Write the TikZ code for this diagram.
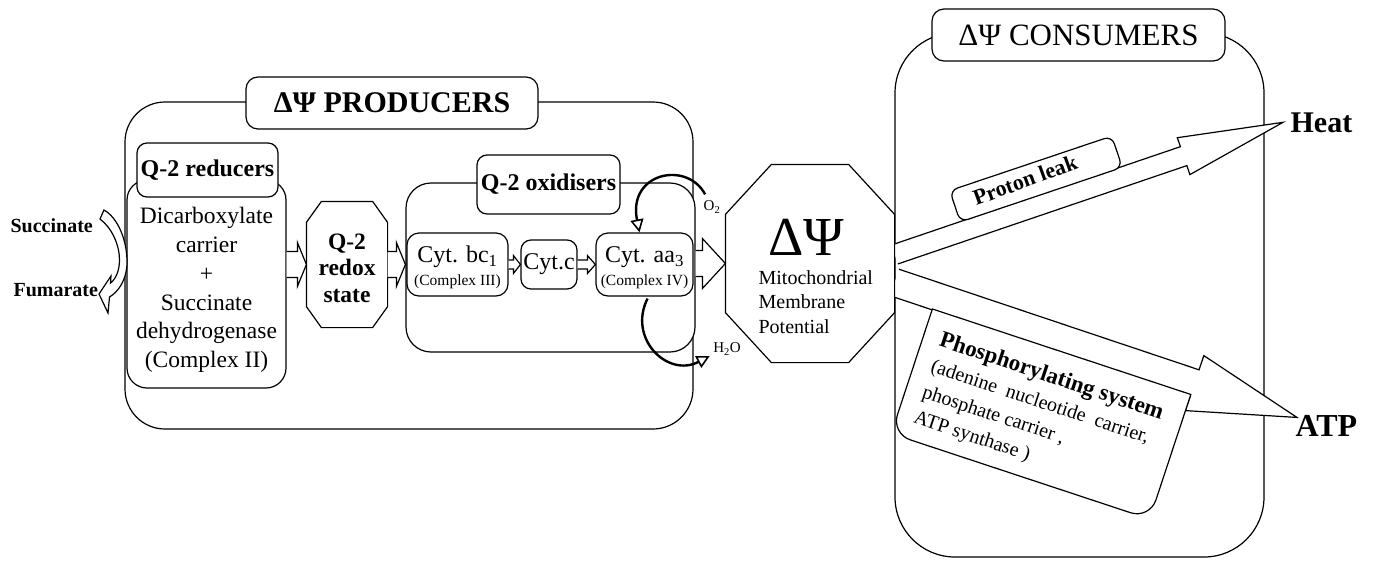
\documentclass[tikz,border=0pt]{standalone}
\usepackage{fontspec}
\setmainfont{Liberation Serif}
\usetikzlibrary{calc,arrows.meta}
\newcommand\fs[2]{\fontsize{#1}{#2}\selectfont}
\newcommand\blockarrow[5]{%
  \coordinate (bab) at ($(#2)!#5!(#1)$);
  \filldraw[fill=white] ($(#1)!#3!90:(#2)$) -- ($(bab)!#3!90:(#2)$) -- ($(bab)!#4!90:(#2)$) -- (#2) -- ($(bab)!#4!-90:(#2)$) -- ($(bab)!#3!-90:(#2)$) -- ($(#1)!#3!-90:(#2)$);
}
\newcommand\octagon[3]{%
  \draw[fill=white] ($(#1.north west)+(#2,0)$) -- ($(#1.north east)+(-#2,0)$) -- ($(#1.north east)+(0,#3)$) -- ($(#1.south east)+(0,-#3)$) -- ($(#1.south east)+(-#2,0)$) -- ($(#1.south west)+(#2,0)$) -- ($(#1.south west)+(0,-#3)$) -- ($(#1.north west)+(0,#3)$) -- cycle;
}
\begin{document}
\begin{tikzpicture}[x=1pt,y=-1pt,line width=1.2pt,
  box/.style={draw,fill=white,rounded corners=#1,inner sep=0pt},
  box/.default=10pt,
  lbl/.style={inner sep=0pt},
  curvearrow/.style={line width=2.4pt,-{Triangle[open,length=13pt,width=13pt,line width=1.6pt]}},
]
\useasboundingbox (0,0) rectangle (1373,560);

% producers
\node[box=40pt,minimum width=568pt,minimum height=327pt] (prod) at (409,265.5) {};
\node[box=12pt,minimum width=292pt,minimum height=52pt,font=\bfseries\fs{30}{36}] (prodt) at (392,103) {ΔΨ PRODUCERS};

% reducers
\node[box=20pt,minimum width=159pt,minimum height=208pt] (red) at (206.5,284) {};
\node[box=10pt,minimum width=141pt,minimum height=54pt,font=\bfseries\fs{24}{29}] (redt) at (207.5,170) {Q-2 reducers};
\node[lbl,align=center,font=\fs{23.5}{28.8}] (redx) at (206.5,290) {Dicarboxylate\\carrier\\+\\Succinate\\dehydrogenase\\(Complex II)};

% redox state
\node[minimum width=80pt,minimum height=125pt,inner sep=0pt] (rdx) at (347,264.5) {};
\octagon{rdx}{15}{21}
\node[lbl,align=center,font=\bfseries\fs{23.5}{26.5}] (rdxt) at (347,268) {Q-2\\redox\\state};

% oxidisers
\node[box=25pt,minimum width=289pt,minimum height=169pt] (ox) at (550.5,267.5) {};
\node[box=10pt,minimum width=143pt,minimum height=59pt,font=\bfseries\fs{24}{29}] (oxt) at (548.5,184.5) {Q-2 oxidisers};
\node[box=12pt,minimum width=101pt,minimum height=63pt] (bc) at (457.5,264.5) {};
\node[lbl,font=\fs{24}{28}] (bct) at (457.5,257) {Cyt. bc\textsubscript{1}};
\node[lbl,font=\fs{15.5}{18}] (bcs) at (457.5,281.5) {(Complex III)};
\node[box=10pt,minimum width=56pt,minimum height=49pt,font=\fs{24}{28}] (cc) at (549,264.5) {Cyt.c};
\node[box=12pt,minimum width=97pt,minimum height=63pt] (aa) at (644.5,264.5) {};
\node[lbl,font=\fs{24}{28}] (aat) at (644.5,257) {Cyt. aa\textsubscript{3}};
\node[lbl,font=\fs{15.5}{18}] (aas) at (644.5,281.5) {(Complex IV)};

% arrows in producers
\coordinate (a1s) at (red.east |- rdx.west);
\blockarrow{a1s}{rdx.west}{13pt}{22pt}{9pt}
\coordinate (a2t) at (ox.west |- rdx.east);
\blockarrow{rdx.east}{a2t}{13pt}{22pt}{9pt}
\blockarrow{bc.east}{cc.west}{4.5pt}{9pt}{7pt}
\blockarrow{cc.east}{aa.west}{4.5pt}{9pt}{8pt}

% succinate / fumarate
\draw[fill=white] (104,210) .. controls (118,218) and (127,240) .. (127,262) .. controls (127,280) and (118,292) .. (109.5,297) -- (108,313) -- (99,294) -- (111,276) -- (110.5,283) .. controls (116,279) and (119.5,270) .. (119.5,260) .. controls (119.5,245) and (112,228) .. (100,219) -- cycle;
\node[lbl,anchor=base west,font=\bfseries\fs{20}{24}] (succ) at (10,232) {Succinate};
\node[lbl,anchor=base west,font=\bfseries\fs{20}{24}] (fum) at (13,296) {Fumarate};

% consumers
\node[box=60pt,minimum width=369pt,minimum height=524pt] (cons) at (1079.5,295) {};
\node[box=12pt,minimum width=293pt,minimum height=52pt,font=\fs{31}{37}] (const) at (1078.5,35) {ΔΨ CONSUMERS};

% psi node (shape drawn later)
\node[minimum width=168pt,minimum height=197pt,inner sep=0pt] (psi) at (810,263.5) {};

\node[lbl,anchor=base west,font=\bfseries\fs{30}{36}] (heat) at (1290,132) {Heat};
\node[lbl,anchor=base west,font=\bfseries\fs{32}{38}] (atp) at (1295,436) {ATP};
\coordinate (heattip) at ($(heat.west)+(-7,0)$);
\coordinate (atptip) at ($(atp.west)+(2,-8)$);
\coordinate (hs) at ($(psi.east)+(0,-9)$);
\coordinate (as) at ($(psi.east)+(0,19)$);

\blockarrow{hs}{heattip}{10pt}{19.5pt}{105pt}
\node[box=8pt,rotate=18.6,minimum width=171pt,minimum height=33pt] (leak) at (1036,179) {};
\node[lbl,rotate=20,font=\bfseries\fs{22}{26}] (leakt) at (1025,180) {Proton leak};

\blockarrow{as}{atptip}{14pt}{29pt}{108pt}
\begin{scope}[shift={(1041,414)},rotate=-18.3]
  \node[transform shape,minimum width=271pt,minimum height=130pt,inner sep=0pt] (phos) at (0,0) {};
  \draw[fill=white] (phos.north west) -- (phos.north east) [rounded corners=20pt] -- (phos.south east) -- (phos.south west) [sharp corners] -- cycle;
  \node[transform shape,lbl,anchor=north west,align=left,font=\fs{20}{27}] (phost) at (-119.5,-49) {{\bfseries\fs{23}{27}Phosphorylating system}\\(adenine\ \ nucleotide\ \ carrier,\\phosphate carrier ,\\ATP synthase )};
\end{scope}

% psi
\coordinate (a3s) at (ox.east |- psi.west);
\blockarrow{a3s}{psi.west}{13pt}{25pt}{23pt}
\octagon{psi}{46}{50}
\node[lbl,anchor=base,font=\fs{55}{60}] (dpsi) at (806,255) {ΔΨ};
\node[lbl,anchor=west,align=left,font=\fs{20}{24.5}] (mmp) at (758,302) {Mitochondrial\\Membrane\\Potential};

% O2 / H2O
\node[lbl,font=\fs{15}{18}] (o2) at (712,207) {O\textsubscript{2}};
\node[lbl,font=\fs{15}{18}] (h2o) at (727,349) {H\textsubscript{2}O};
\draw[curvearrow] ($(o2.north west)+(2,-6)$) .. controls +(-18,-34) and +(-12,-60) .. ($(aa.north)+(-5,0)$);
\draw[curvearrow] ($(aa.south)+(3,2)$) .. controls +(-20,40) and +(-42,22) .. ($(h2o.west)+(-3,7)$);
\end{tikzpicture}
\end{document}
